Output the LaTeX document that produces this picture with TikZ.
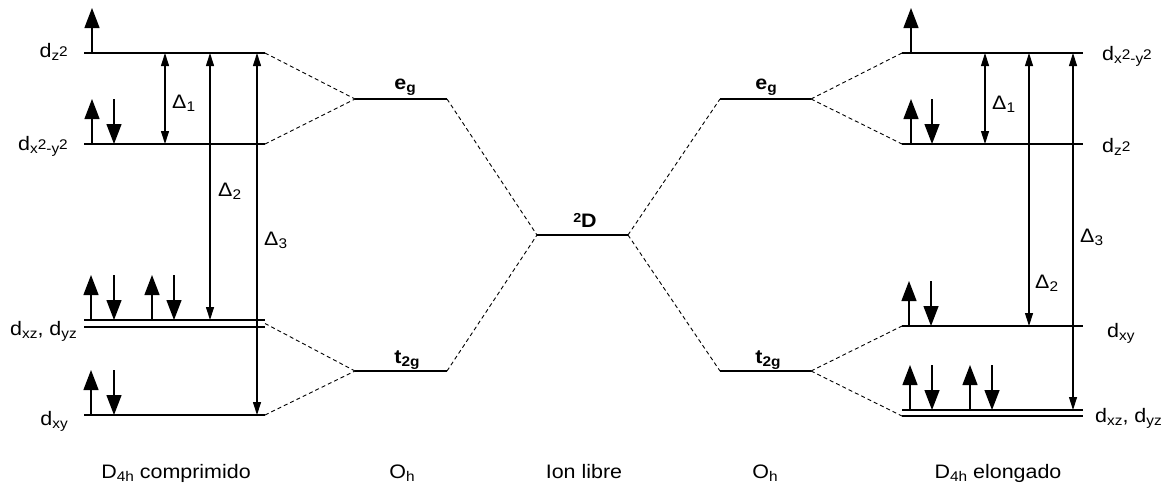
\documentclass[tikz,border=0pt]{standalone}
\usepackage{fontspec}
\setmainfont{Liberation Sans}[FakeStretch=1.1]
\usepackage{tikz}
\usetikzlibrary{arrows.meta, positioning, calc}
\newcommand{\lowtx}[1]{\raisebox{-0.3ex}{\fontsize{14}{14}\selectfont #1}}
\newcommand{\hightx}[1]{\raisebox{0.55ex}{#1}}

\begin{document}
\begin{tikzpicture}[
  x=1pt, y=-1pt,
  font=\fontsize{19.5}{21}\selectfont,
  lvl/.style   ={line width=1.4pt},
  link/.style  ={line width=0.9pt, dash pattern=on 4pt off 3pt},
  gap/.style   ={{Triangle[length=13pt,width=8pt]}-{Triangle[length=13pt,width=8pt]}, line width=1.1pt},
  elec/.style  ={-{Triangle[length=20pt,width=15pt]}, line width=1.3pt},
  orbL/.style  ={anchor=base east, inner sep=0pt},
  orbR/.style  ={anchor=base west, inner sep=0pt},
  dlt/.style   ={anchor=west, inner sep=0pt},
  term/.style  ={anchor=base, inner sep=0pt, font=\fontsize{19.5}{21}\selectfont\bfseries},
  grp/.style   ={anchor=base, inner sep=0pt}
]
\useasboundingbox (0,0) rectangle (1174,488);

% D4h comprimido
\coordinate (cz2a)  at (84,53);   \coordinate (cz2b)  at (265,53);
\coordinate (cx2a)  at (84,144);  \coordinate (cx2b)  at (265,144);
\coordinate (cxza)  at (84,320);  \coordinate (cxzb)  at (265,320);
\coordinate (cyza)  at (84,327);  \coordinate (cyzb)  at (265,327);
\coordinate (cxya)  at (84,415);  \coordinate (cxyb)  at (265,415);
% Oh, ion libre, Oh
\coordinate (egLa)  at (355,99);  \coordinate (egLb)  at (447,99);
\coordinate (t2La)  at (355,371); \coordinate (t2Lb)  at (447,371);
\coordinate (Da)    at (537,235); \coordinate (Db)    at (628,235);
\coordinate (egRa)  at (720,99);  \coordinate (egRb)  at (811,99);
\coordinate (t2Ra)  at (720,371); \coordinate (t2Rb)  at (811,371);
% D4h elongado
\coordinate (ex2a)  at (902,53);  \coordinate (ex2b)  at (1083,53);
\coordinate (ez2a)  at (902,144); \coordinate (ez2b)  at (1083,144);
\coordinate (exya)  at (902,326); \coordinate (exyb)  at (1083,326);
\coordinate (exza)  at (902,410); \coordinate (exzb)  at (1083,410);
\coordinate (eyza)  at (902,416); \coordinate (eyzb)  at (1083,416);

\foreach \a/\b in {cz2a/cz2b, cx2a/cx2b, cxza/cxzb, cyza/cyzb, cxya/cxyb,
                   egLa/egLb, t2La/t2Lb, Da/Db, egRa/egRb, t2Ra/t2Rb,
                   ex2a/ex2b, ez2a/ez2b, exya/exyb, exza/exzb, eyza/eyzb}
  \draw[lvl] (\a) -- (\b);

\draw[link] (cz2b) -- (egLa);
\draw[link] (cx2b) -- (egLa);
\draw[link] ($(cxzb)!0.5!(cyzb)$) -- (t2La);
\draw[link] (cxyb) -- (t2La);
\draw[link] (egLb) -- (Da);
\draw[link] (t2Lb) -- (Da);
\draw[link] (Db) -- (egRa);
\draw[link] (Db) -- (t2Ra);
\draw[link] (egRb) -- (ex2a);
\draw[link] (egRb) -- (ez2a);
\draw[link] (t2Rb) -- (exya);
\draw[link] (t2Rb) -- (eyza);

% splittings
\draw[gap] (165,53) -- (165,144);
\draw[gap] (210,53) -- (210,320);
\draw[gap] (257,53) -- (257,415);
\draw[gap] (985,53) -- (985,144);
\draw[gap] (1029,53) -- (1029,326);
\draw[gap] (1073,53) -- (1073,410);

% electrons
\foreach \x/\y in {92/53, 92/144, 91/320, 152/320, 91/415,
                   911/53, 911/144, 909/326, 910/410, 970/410}
  \draw[elec] (\x,\y) -- ++(0,-45);
\foreach \x/\y in {114/144, 114/320, 174/320, 114/415,
                   932/144, 931/326, 932/410, 992/410}
  \draw[elec] (\x,\y-45) -- (\x,\y);

\node[orbL] (lz2) at (68,57)  {d\lowtx{z\hightx{2}}};
\node[orbL] (lx2) at (68,150) {d\lowtx{x\hightx{2}-y\hightx{2}}};
\node[orbL] (lxz) at (77,335) {d\lowtx{xz}, d\lowtx{yz}};
\node[orbL] (lxy) at (68,425) {d\lowtx{xy}};
\node[orbR] (rx2) at (1102,60)  {d\lowtx{x\hightx{2}-y\hightx{2}}};
\node[orbR] (rz2) at (1102,152) {d\lowtx{z\hightx{2}}};
\node[orbR] (rxy) at (1107,337) {d\lowtx{xy}};
\node[orbR] (rxz) at (1095,422) {d\lowtx{xz}, d\lowtx{yz}};

\node[dlt] (dl1) at (172,103) {Δ\lowtx{1}};
\node[dlt] (dl2) at (218,191) {Δ\lowtx{2}};
\node[dlt] (dl3) at (264,240) {Δ\lowtx{3}};
\node[dlt] (dr1) at (992,104) {Δ\lowtx{1}};
\node[dlt] (dr2) at (1035,283) {Δ\lowtx{2}};
\node[dlt] (dr3) at (1080,237) {Δ\lowtx{3}};

\node[term] (egL) at (405,89)  {e\lowtx{g}};
\node[term] (t2L) at (407,363) {t\lowtx{2g}};
\node[term] (tD)  at (585,227) {\raisebox{0.45ex}{\fontsize{13}{13}\selectfont 2}D};
\node[term] (egR) at (766,89)  {e\lowtx{g}};
\node[term] (t2R) at (768,363) {t\lowtx{2g}};

\node[grp] (gcomp) at (176,478) {D\lowtx{4h} comprimido};
\node[grp] (gohL)  at (402,478) {O\lowtx{h}};
\node[grp] (gfree) at (584,478) {Ion libre};
\node[grp] (gohR)  at (765,478) {O\lowtx{h}};
\node[grp] (gelon) at (998,478) {D\lowtx{4h} elongado};
\end{tikzpicture}
\end{document}
